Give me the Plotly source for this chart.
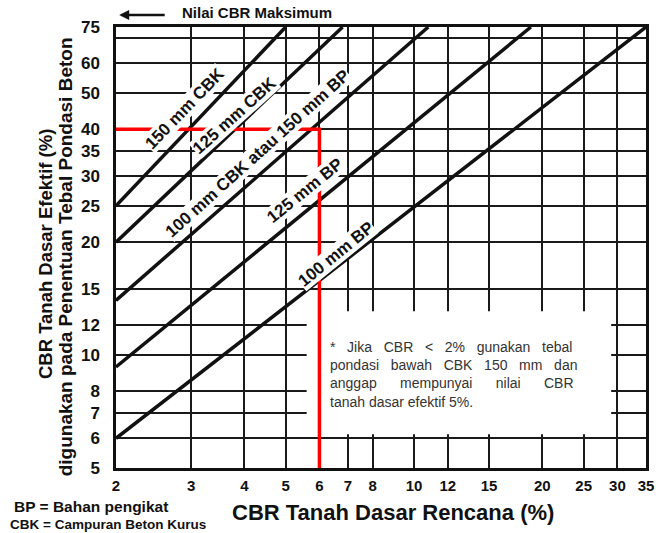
import math
import plotly.graph_objects as go

# ---- data ----
x_ticks = [2, 3, 4, 5, 6, 7, 8, 10, 12, 15, 20, 25, 30, 35]
y_ticks = [5, 6, 7, 8, 10, 12, 15, 20, 25, 30, 35, 40, 50, 60, 70, 75]
y_ticktext = ["5", "6", "7", "8", "10", "12", "15", "20", "25", "30", "35", "40", "50", "60", "", "75"]

line_names = ["150 mm CBK", "125 mm CBK", "100 mm CBK atau 150 mm BP", "125 mm BP", "100 mm BP"]
line_x_start = [2, 2, 2, 2, 2]
line_y_start = [25, 20, 14, 9.3, 6]
line_x_end = [5.0, 6.8, 10.8, 18.8, 35]
line_y_end = [75, 75, 75, 75, 75]

# label anchor (data coordinates) and angle
label_x = [2.90, 3.80, 4.30, 5.55, 6.55]
label_y = [45.5, 43.5, 34.5, 27.5, 18.6]
label_angle = [-46, -42, -42, -39, -39]

example_x = [2, 6, 6]
example_y = [40, 40, 5]

fig = go.Figure()

for i, name in enumerate(line_names):
    fig.add_trace(go.Scatter(
        x=[line_x_start[i], line_x_end[i]], y=[line_y_start[i], line_y_end[i]],
        mode="lines", line=dict(color="#111111", width=3.5),
        name=name, showlegend=False, hoverinfo="skip"))

fig.add_trace(go.Scatter(x=example_x, y=example_y, mode="lines",
                         line=dict(color="#ff0000", width=3.5),
                         showlegend=False, hoverinfo="skip", cliponaxis=False))

# white note box hiding grid
fig.add_shape(type="rect", xref="x", yref="y", x0=5.6, x1=29, y0=6.15, y1=13.1,
              fillcolor="white", line=dict(width=0), layer="between")

font_b = "Liberation Sans, Arial, sans-serif"

for i, name in enumerate(line_names):
    fig.add_annotation(x=math.log10(label_x[i]), y=math.log10(label_y[i]), xref="x", yref="y",
                       text="<b>%s</b>" % name, showarrow=False, textangle=label_angle[i],
                       font=dict(family=font_b, size=17, color="#111"),
                       bgcolor="white", borderpad=0)

note = ("*   Jika   CBR   &lt;   2%   gunakan   tebal<br>pondasi   bawah   CBK   150   mm   dan<br>"
        "anggap      mempunyai      nilai      CBR<br>tanah dasar efektif 5%.")
fig.add_annotation(x=math.log10(6.3), y=math.log10(8.9), xref="x", yref="y",
                   text=note, showarrow=False, xanchor="left", yanchor="middle", align="left",
                   font=dict(family=font_b, size=14, color="#333"))

# top label with arrow
fig.add_annotation(x=0.121, y=1.032, xref="paper", yref="paper", xanchor="left", yanchor="middle",
                   text="<b>Nilai CBR Maksimum</b>", showarrow=False,
                   font=dict(family=font_b, size=15, color="#111"))
fig.add_annotation(x=0.006, y=1.027, xref="paper", yref="paper", text="", showarrow=True,
                   ax=47, ay=0, arrowhead=2, arrowsize=0.8, arrowwidth=2.5, arrowcolor="#111",
                   standoff=0)

# y titles
fig.add_annotation(x=-0.134, y=0.485, xref="paper", yref="paper", textangle=-90,
                   xanchor="center", yanchor="middle",
                   text="<b>CBR Tanah Dasar Efektif (%)</b>", showarrow=False,
                   font=dict(family=font_b, size=18.5, color="#111"))
fig.add_annotation(x=-0.096, y=0.478, xref="paper", yref="paper", textangle=-90,
                   xanchor="center", yanchor="middle",
                   text="<b>digunakan pada Penentuan Tebal Pondasi Beton</b>", showarrow=False,
                   font=dict(family=font_b, size=19, color="#111"))

# x title
fig.add_annotation(x=0.523, y=-0.10, xref="paper", yref="paper", xanchor="center", yanchor="middle",
                   text="<b>CBR Tanah Dasar Rencana (%)</b>", showarrow=False,
                   font=dict(family=font_b, size=22, color="#111"))

# legend notes
fig.add_annotation(x=-0.196, y=-0.088, xref="paper", yref="paper", xanchor="left", yanchor="middle",
                   text="<b>BP = Bahan pengikat</b>", showarrow=False,
                   font=dict(family=font_b, size=15.5, color="#111"))
fig.add_annotation(x=-0.204, y=-0.127, xref="paper", yref="paper", xanchor="left", yanchor="middle",
                   text="<b>CBK = Campuran Beton Kurus</b>", showarrow=False,
                   font=dict(family=font_b, size=13.5, color="#111"))

fig.update_layout(
    width=659, height=533,
    margin=dict(l=116, r=13, t=27, b=65),
    paper_bgcolor="white", plot_bgcolor="white",
    showlegend=False,
)
fig.update_xaxes(type="log", range=[math.log10(2), math.log10(35)], automargin=False,
                 tickmode="array", tickvals=x_ticks, ticktext=[str(v) for v in x_ticks],
                 showgrid=True, gridcolor="#1a1a1a", gridwidth=2,
                 showline=True, mirror=True, linecolor="#111", linewidth=2.5,
                 ticks="", ticklabelstandoff=2,
                 tickfont=dict(family=font_b, size=15, color="#111", weight="bold"))
fig.update_yaxes(type="log", range=[math.log10(5), math.log10(75)], automargin=False,
                 tickmode="array", tickvals=y_ticks, ticktext=y_ticktext,
                 showgrid=True, gridcolor="#1a1a1a", gridwidth=2,
                 showline=True, mirror=True, linecolor="#111", linewidth=2.5,
                 ticks="", ticklabelstandoff=10,
                 tickfont=dict(family=font_b, size=17, color="#111", weight="bold"))

fig.write_html("out.html", config={"displayModeBar": False},
               post_script="document.body.style.margin='0';")
